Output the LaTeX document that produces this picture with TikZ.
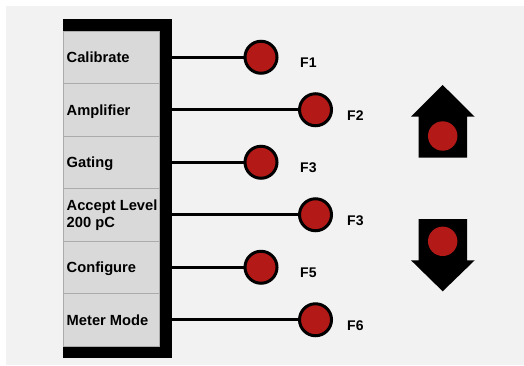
\documentclass[tikz,border=0pt]{standalone}
\usepackage{fontspec}
\setmainfont{Liberation Sans}
\definecolor{bg}{HTML}{F2F2F2}
\definecolor{cellgray}{HTML}{D9D9D9}
\definecolor{cellline}{HTML}{ABABAB}
\definecolor{btnred}{HTML}{B31A17}
\tikzset{
  frame/.style={fill=black, draw=none, minimum width=109pt, minimum height=339pt, inner sep=0pt},
  cell/.style={fill=cellgray, draw=cellline, line width=1pt, minimum width=96pt, minimum height=52.5pt, inner sep=0pt},
  lbl/.style={font=\fontsize{14.7pt}{17.5pt}\selectfont\bfseries, anchor=base west, inner sep=0pt, align=left},
  flbl/.style={font=\fontsize{14pt}{16pt}\selectfont\bfseries, anchor=base west, inner sep=0pt},
  btn/.style={circle, fill=btnred, draw=black, line width=3pt, minimum size=32pt, inner sep=0pt},
  wire/.style={line width=3pt, black},
  arrowshape/.style={fill=black, draw=none},
  dot/.style={circle, fill=btnred, draw=none, minimum size=29.4pt, inner sep=0pt}
}
\begin{document}
\begin{tikzpicture}[x=1pt, y=-1pt]
\useasboundingbox (0,0) rectangle (524,365);
\fill[white] (0,0) rectangle (524,365);
\fill[bg] (6,6) rectangle (524,365);
% panel
\node[frame] (frame) at (117.5,188.5) {};
\foreach \i/\y in {1/57.25,2/109.75,3/162.25,4/214.75,5/267.25,6/319.75}{
  \node[cell] (c\i) at (111,\y) {};
}
\node[lbl] (t1) at ([xshift=4pt,yshift=-5.4pt]c1.west) {Calibrate};
\node[lbl] (t2) at ([xshift=4pt,yshift=-5.4pt]c2.west) {Amplifier};
\node[lbl] (t3) at ([xshift=4pt,yshift=-5.4pt]c3.west) {Gating};
\node[lbl] (t4) at ([xshift=4pt,yshift=-12.8pt]c4.west) {Accept Level\\200 pC};
\node[lbl] (t5) at ([xshift=4pt,yshift=-5.4pt]c5.west) {Configure};
\node[lbl] (t6) at ([xshift=4pt,yshift=-5.4pt]c6.west) {Meter Mode};
% buttons
\node[btn] (b1) at (261,57.25) {};
\node[btn] (b2) at (315.5,109.75) {};
\node[btn] (b3) at (261,162.25) {};
\node[btn] (b4) at (315.5,214.75) {};
\node[btn] (b5) at (261,267.25) {};
\node[btn] (b6) at (315.5,319.75) {};
\foreach \i in {1,...,6}{
  \draw[wire] (c\i.east -| frame.east) -- (b\i.west);
}
% function labels
\node[flbl] (f1) at (300,67.7) {F1};
\node[flbl] (f2) at (347,120.2) {F2};
\node[flbl] (f3) at (300,172.7) {F3};
\node[flbl] (f4) at (347,225.2) {F3};
\node[flbl] (f5) at (300,277.7) {F5};
\node[flbl] (f6) at (347,330.2) {F6};
% up arrow
\fill[arrowshape] (442.7,85) -- (474.7,116.7) -- (467,116.7) -- (467,157.7) -- (418.7,157.7) -- (418.7,116.7) -- (411,116.7) -- cycle;
\node[dot] (updot) at (442.7,136) {};
% down arrow
\fill[arrowshape] (418.7,219) -- (467,219) -- (467,260.3) -- (474.7,260.3) -- (442.7,291.3) -- (411,260.3) -- (418.7,260.3) -- cycle;
\node[dot] (downdot) at (442.7,241.3) {};
\end{tikzpicture}
\end{document}
